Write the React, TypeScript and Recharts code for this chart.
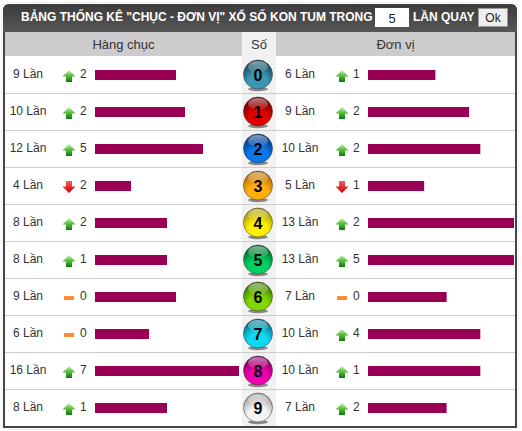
import { BarChart, Bar, XAxis, YAxis } from 'recharts';

const digits = ['0', '1', '2', '3', '4', '5', '6', '7', '8', '9'];
const tensCounts = [9, 10, 12, 4, 8, 8, 9, 6, 16, 8];
const tensDeltas = [2, 2, 5, 2, 2, 1, 0, 0, 7, 1];
const tensTrends = ['up', 'up', 'up', 'down', 'up', 'up', 'flat', 'flat', 'up', 'up'];
const unitCounts = [6, 9, 10, 5, 13, 13, 7, 10, 10, 7];
const unitDeltas = [1, 2, 2, 1, 2, 5, 0, 4, 1, 2];
const unitTrends = ['up', 'up', 'up', 'down', 'up', 'up', 'flat', 'up', 'up', 'up'];
const ballColors = ['#3a98b4', '#e00000', '#0a78ea', '#ffae10', '#fff000', '#00d060', '#80d800', '#10d8f0', '#f000b0', '#f4f4f4'];
const ballEdges = ['#123f50', '#6a0000', '#04347e', '#b06800', '#a09000', '#006428', '#387000', '#006a88', '#800058', '#9a9a9a'];

const FONT = 'Arial, "Liberation Sans", sans-serif';
const BAR_COLOR = '#990055';
const ROW_H = 37;

const tensData = digits.map((d, i) => ({ digit: d, count: tensCounts[i], delta: tensDeltas[i], trend: tensTrends[i] }));
const unitData = digits.map((d, i) => ({ digit: d, count: unitCounts[i], delta: unitDeltas[i], trend: unitTrends[i] }));

const TrendIcon = ({ x, y, trend }: any) => {
  if (trend === 'up') {
    return (
      <g transform={`translate(${x},${y})`}>
        <path d="M0,-6 L6.5,0.5 L3,0.5 L3,6 L-3,6 L-3,0.5 L-6.5,0.5 Z" fill="url(#upFill)" />
      </g>
    );
  }
  if (trend === 'down') {
    return (
      <g transform={`translate(${x},${y})`}>
        <path d="M-3,-6 L3,-6 L3,-0.5 L6.5,-0.5 L0,6 L-6.5,-0.5 L-3,-0.5 Z" fill="url(#downFill)" />
      </g>
    );
  }
  return <rect x={x - 5} y={y - 2} width={10} height={4} fill="#ff8c2e" />;
};

const RowTick = ({ y, payload, rows, countX, iconX, deltaX }: any) => {
  const row = rows[payload.index];
  return (
    <g>
      <text x={countX} y={y + 3} textAnchor="middle" fontSize={12} fontFamily={FONT} fill="#333">
        {row.count} Lần
      </text>
      <TrendIcon x={iconX} y={y + 1.5} trend={row.trend} />
      <text x={deltaX} y={y + 3} fontSize={12} fontFamily={FONT} fill="#333">
        {row.delta}
      </text>
    </g>
  );
};

const UnitTick = (props: any) => {
  const { y, payload } = props;
  const i = payload.index;
  const cx = 16;
  const cy = y;
  return (
    <g>
      <defs>
        <radialGradient id={`ball${i}`} cx="50%" cy="82%" r="78%">
          <stop offset="0%" stopColor={ballColors[i]} />
          <stop offset="45%" stopColor={ballColors[i]} />
          <stop offset="100%" stopColor={ballEdges[i]} />
        </radialGradient>
        <linearGradient id={`gloss${i}`} x1="0" y1="0" x2="0" y2="1">
          <stop offset="0%" stopColor="#fff" stopOpacity={0.5} />
          <stop offset="100%" stopColor="#fff" stopOpacity={0.05} />
        </linearGradient>
      </defs>
      <ellipse cx={cx} cy={cy + 14.5} rx={10} ry={2.2} fill="#333" opacity={0.55} />
      <circle cx={cx} cy={cy} r={14.5} fill={`url(#ball${i})`} stroke="#333" strokeWidth={0.5} />
      <ellipse cx={cx} cy={cy - 7.5} rx={10} ry={6} fill={`url(#gloss${i})`} />
      <text x={cx} y={cy + 6} textAnchor="middle" fontSize={16} fontWeight={700} fontFamily={FONT} fill="#000">
        {payload.value}
      </text>
      <RowTick {...props} rows={unitData} countX={58} iconX={100} deltaX={111} />
    </g>
  );
};

const Gradients = () => (
  <defs>
    <linearGradient id="upFill" x1="0" y1="0" x2="0" y2="1">
      <stop offset="0%" stopColor="#c8f4b0" />
      <stop offset="45%" stopColor="#5cc040" />
      <stop offset="100%" stopColor="#0a7a0a" />
    </linearGradient>
    <linearGradient id="downFill" x1="0" y1="0" x2="0" y2="1">
      <stop offset="0%" stopColor="#f06060" />
      <stop offset="100%" stopColor="#d00000" />
    </linearGradient>
  </defs>
);

export default function App() {
  return (
    <div style={{ position: 'absolute', left: 0, top: 0, width: 522, height: 431, background: '#fff', overflow: 'hidden', fontFamily: FONT }}>
      <div style={{ position: 'absolute', left: 1, top: 2, width: 518, height: 428, border: '1px solid #eee', borderRadius: 6, boxSizing: 'border-box' }} />
      <div style={{ position: 'absolute', left: 3, top: 4, width: 514, height: 424, border: '2px solid #444', borderTop: 'none', borderRadius: '6px 6px 0 0', boxSizing: 'border-box', overflow: 'hidden' }} />

      {/* Title bar */}
      <div style={{ position: 'absolute', left: 3, top: 4, width: 514, height: 28, borderRadius: '6px 6px 0 0', background: 'linear-gradient(#3c3c3c, #565656)' }} />
      <div style={{ position: 'absolute', left: 21, top: 10, fontSize: 12, fontWeight: 700, color: '#fff', whiteSpace: 'nowrap' }}>
        BẢNG THỐNG KÊ "CHỤC - ĐƠN VỊ" XỔ SỐ KON TUM TRONG
      </div>
      <div style={{ position: 'absolute', left: 375, top: 8, width: 34, height: 19, background: '#fff', color: '#222', textAlign: 'center', fontSize: 13, lineHeight: '21px' }}>5</div>
      <div style={{ position: 'absolute', left: 413, top: 10, fontSize: 12, fontWeight: 700, color: '#fff', whiteSpace: 'nowrap' }}>LẦN QUAY</div>
      <div style={{ position: 'absolute', left: 478, top: 8, width: 30, height: 19, background: '#efefef', border: '1px solid #999', boxSizing: 'border-box', color: '#222', textAlign: 'center', fontSize: 12, lineHeight: '18px' }}>Ok</div>

      {/* Column headers */}
      <div style={{ position: 'absolute', left: 5, top: 32, width: 237, height: 24, background: '#cccccc', color: '#333', fontSize: 13, textAlign: 'center', lineHeight: '25px' }}>Hàng chục</div>
      <div style={{ position: 'absolute', left: 242, top: 32, width: 34, height: 24, background: '#f1f1f1', color: '#333', fontSize: 13, textAlign: 'center', lineHeight: '25px' }}>Số</div>
      <div style={{ position: 'absolute', left: 276, top: 32, width: 239, height: 24, background: '#cccccc', color: '#333', fontSize: 13, textAlign: 'center', lineHeight: '25px' }}>Đơn vị</div>

      {/* Row backgrounds */}
      <div style={{ position: 'absolute', left: 242, top: 56, width: 34, height: 370, background: '#f1f1f1' }} />
      {digits.slice(1).map((d, i) => (
        <div key={d} style={{ position: 'absolute', left: 5, top: 56 + ROW_H * (i + 1), width: 510, height: 1, background: '#cccccc' }} />
      ))}

      {/* Left bars */}
      <div style={{ position: 'absolute', left: 4, top: 55.5 }}>
        <BarChart layout="vertical" width={238} height={370} data={tensData} margin={{ top: 0, right: 3, bottom: 0, left: 0 }}>
          <Gradients />
          <XAxis type="number" hide domain={[0, 16]} />
          <YAxis
            type="category"
            dataKey="digit"
            width={91}
            interval={0}
            axisLine={false}
            tickLine={false}
            tick={<RowTick rows={tensData} countX={24} iconX={65} deltaX={76} />}
          />
          <Bar dataKey="count" fill={BAR_COLOR} barSize={10} isAnimationActive={false} />
        </BarChart>
      </div>

      {/* Balls and right bars */}
      <div style={{ position: 'absolute', left: 242, top: 55.5 }}>
        <BarChart layout="vertical" width={274} height={370} data={unitData} margin={{ top: 0, right: 2, bottom: 0, left: 0 }}>
          <Gradients />
          <XAxis type="number" hide domain={[0, 13]} />
          <YAxis
            type="category"
            dataKey="digit"
            width={126}
            interval={0}
            axisLine={false}
            tickLine={false}
            tick={<UnitTick />}
          />
          <Bar dataKey="count" fill={BAR_COLOR} barSize={10} isAnimationActive={false} />
        </BarChart>
      </div>
    </div>
  );
}
